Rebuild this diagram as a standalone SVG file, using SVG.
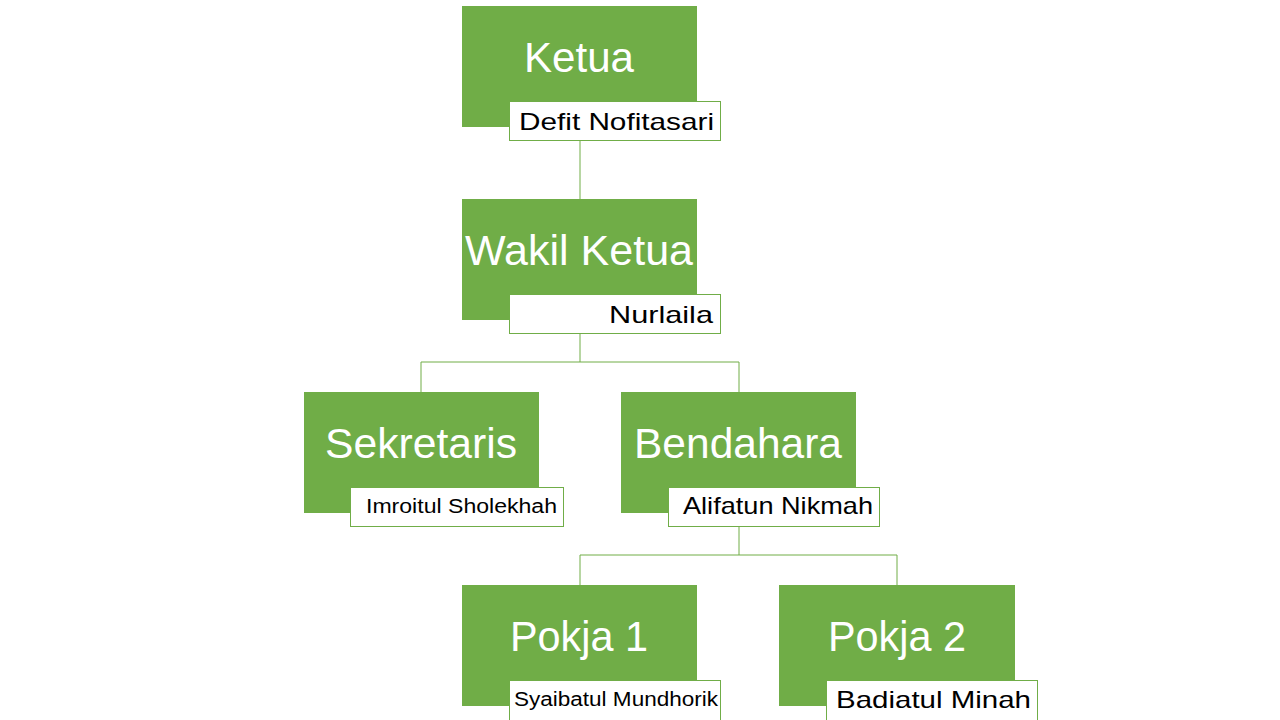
<svg xmlns="http://www.w3.org/2000/svg" width="1280" height="720" viewBox="0 0 1280 720">
<style>
.box{fill:#70AD47}
.lab{fill:#fff;stroke:#70AD47;stroke-width:1}
.t{fill:#fff;font-family:"Liberation Sans",Arial,sans-serif;font-size:42px;text-anchor:middle}
.l{fill:#000;font-family:"Liberation Sans",Arial,sans-serif;font-size:24px}
.s{font-size:20px}
#conn path{fill:none;stroke:#70AD47;stroke-width:1}
</style>
<rect width="1280" height="720" fill="#fff"/>
<g id="conn">
<path d="M580 141V199M580 334V362M421 392V362H739V392M739 527V555M580 585V555H897V585"/>
</g>
<g id="ketua"><rect class="box" x="462" y="6" width="235" height="121"/><text class="t" x="579" y="72" textLength="110" lengthAdjust="spacingAndGlyphs">Ketua</text>
<rect class="lab" x="509.5" y="101.5" width="211" height="39"/><text class="l" x="519" y="130" textLength="195" lengthAdjust="spacingAndGlyphs">Defit Nofitasari</text></g>
<g id="wakil"><rect class="box" x="462" y="199" width="235" height="121"/><text class="t" x="579" y="265" textLength="228" lengthAdjust="spacingAndGlyphs">Wakil Ketua</text>
<rect class="lab" x="509.5" y="294.5" width="211" height="39"/><text class="l" x="609" y="323" textLength="104" lengthAdjust="spacingAndGlyphs">Nurlaila</text></g>
<g id="sekretaris"><rect class="box" x="304" y="392" width="235" height="121"/><text class="t" x="421" y="458" textLength="192" lengthAdjust="spacingAndGlyphs">Sekretaris</text>
<rect class="lab" x="350.5" y="487.5" width="213" height="39"/><text class="l s" x="366" y="513" textLength="191" lengthAdjust="spacingAndGlyphs">Imroitul Sholekhah</text></g>
<g id="bendahara"><rect class="box" x="621" y="392" width="235" height="121"/><text class="t" x="738" y="458" textLength="208" lengthAdjust="spacingAndGlyphs">Bendahara</text>
<rect class="lab" x="668.5" y="487.5" width="211" height="39"/><text class="l" x="683" y="514" textLength="190" lengthAdjust="spacingAndGlyphs">Alifatun Nikmah</text></g>
<g id="pokja1"><rect class="box" x="462" y="585" width="235" height="121"/><text class="t" x="579" y="651" textLength="138" lengthAdjust="spacingAndGlyphs">Pokja 1</text>
<rect class="lab" x="509.5" y="680.5" width="211" height="40"/><text class="l s" x="514" y="706" textLength="204" lengthAdjust="spacingAndGlyphs">Syaibatul Mundhorik</text></g>
<g id="pokja2"><rect class="box" x="779" y="585" width="236" height="121"/><text class="t" x="897" y="651" textLength="138" lengthAdjust="spacingAndGlyphs">Pokja 2</text>
<rect class="lab" x="826.5" y="680.5" width="211" height="40"/><text class="l" x="836" y="708" textLength="195" lengthAdjust="spacingAndGlyphs">Badiatul Minah</text></g>
</svg>
